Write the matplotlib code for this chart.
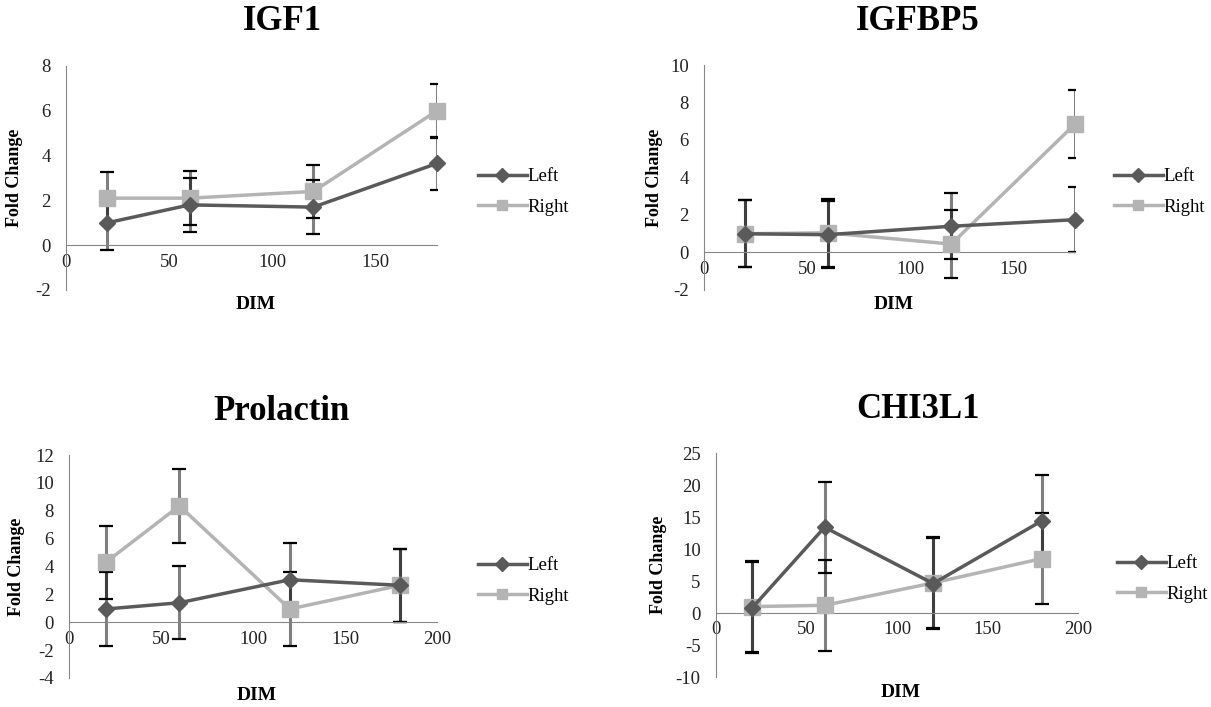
import matplotlib
matplotlib.use("Agg")
import matplotlib.pyplot as plt
import numpy as np

plt.rcParams['font.family'] = ['Liberation Serif', 'DejaVu Serif']
plt.rcParams['axes.unicode_minus'] = False

dim = [20, 60, 120, 180]

titles = ["IGF1", "IGFBP5", "Prolactin", "CHI3L1"]

left_vals = {
    "IGF1": [1.0, 1.8, 1.7, 3.65],
    "IGFBP5": [1.0, 0.95, 1.4, 1.75],
    "Prolactin": [0.95, 1.4, 3.05, 2.65],
    "CHI3L1": [0.8, 13.4, 4.6, 14.4],
}
right_vals = {
    "IGF1": [2.1, 2.1, 2.4, 6.0],
    "IGFBP5": [1.0, 1.05, 0.45, 6.85],
    "Prolactin": [4.3, 8.35, 0.95, 2.65],
    "CHI3L1": [1.0, 1.2, 4.7, 8.5],
}
left_err = {
    "IGF1": [1.2, 1.2, 1.2, 1.2],
    "IGFBP5": [1.8, 1.8, 1.75, 1.75],
    "Prolactin": [2.63, 2.63, 2.63, 2.63],
    "CHI3L1": [7.1, 7.1, 7.1, 7.1],
}
right_err = {
    "IGF1": [1.15, 1.2, 1.2, 1.2],
    "IGFBP5": [1.8, 1.8, 1.8, 1.8],
    "Prolactin": [2.6, 2.63, 2.63, 2.63],
    "CHI3L1": [7.1, 7.1, 7.1, 7.1],
}

xlims = {"IGF1": (0, 180), "IGFBP5": (0, 180), "Prolactin": (0, 200), "CHI3L1": (0, 200)}
xticks = {"IGF1": [0, 50, 100, 150], "IGFBP5": [0, 50, 100, 150],
          "Prolactin": [0, 50, 100, 150, 200], "CHI3L1": [0, 50, 100, 150, 200]}
ylims = {"IGF1": (-2, 8), "IGFBP5": (-2, 10), "Prolactin": (-4, 12), "CHI3L1": (-10, 25)}
ysteps = {"IGF1": 2, "IGFBP5": 2, "Prolactin": 2, "CHI3L1": 5}

W, H = 1211, 707
fig = plt.figure(figsize=(W / 100, H / 100), dpi=100)

# pixel boxes: (x0, x1, ytop, ybottom)
boxes = {
    "IGF1": (66, 437, 66, 290),
    "IGFBP5": (704, 1075, 65, 290),
    "Prolactin": (69, 437, 455, 678),
    "CHI3L1": (716, 1078, 453, 677),
}
title_pos = {"IGF1": (282, 22), "IGFBP5": (918, 22), "Prolactin": (282, 412), "CHI3L1": (918, 410)}
legend_pos = {"IGF1": (478, 192), "IGFBP5": (1114, 192), "Prolactin": (478, 581), "CHI3L1": (1117, 579)}
ylabel_x = {"IGF1": -0.116, "IGFBP5": -0.11, "Prolactin": -0.12, "CHI3L1": -0.135}
xlabel_y = {"IGF1": -0.027, "IGFBP5": -0.027, "Prolactin": -0.04, "CHI3L1": -0.03}

left_color = "#5a5a5a"
right_color = "#b4b4b4"
axis_color = "#868686"

for name in titles:
    x0, x1, yt, yb = boxes[name]
    ax = fig.add_axes([x0 / W, 1 - yb / H, (x1 - x0) / W, (yb - yt) / H])
    ax.set_xlim(*xlims[name])
    ax.set_ylim(*ylims[name])
    lo, hi = ylims[name]
    ax.set_yticks(np.arange(lo, hi + 0.1, ysteps[name]))
    ax.set_xticks(xticks[name])
    for s in ["top", "right"]:
        ax.spines[s].set_visible(False)
    ax.spines["left"].set_color(axis_color)
    ax.spines["left"].set_position(("data", 0))
    ax.spines["bottom"].set_color(axis_color)
    ax.spines["bottom"].set_position(("data", 0))
    ax.tick_params(length=0, labelsize=13.5, colors="#222222")
    ax.tick_params(axis="y", pad=11)
    ax.tick_params(axis="x", pad=6)
    ax.patch.set_visible(False)

    for vals, errs in ((left_vals[name], left_err[name]), (right_vals[name], right_err[name])):
        eb = ax.errorbar(dim, vals, yerr=errs, fmt="none", ecolor="black", alpha=0.5,
                         elinewidth=2.2, capsize=5, capthick=1.6, zorder=2)
        for cap in eb[1]:
            cap.set_alpha(1.0)
            cap.set_color("#111111")

    ax.plot(dim, left_vals[name], color=left_color, lw=2.5, marker="D", ms=8,
            mfc=left_color, mec=left_color, label="Left", zorder=4, clip_on=False)
    ax.plot(dim, right_vals[name], color=right_color, lw=2.5, marker="s", ms=11,
            mfc=right_color, mec=right_color, label="Right", zorder=3, clip_on=False)

    ax.set_xlabel("DIM", fontsize=14, fontweight="bold")
    ax.xaxis.set_label_coords(0.51, xlabel_y[name])
    ax.set_ylabel("Fold Change", fontsize=13, fontweight="bold")
    ax.yaxis.set_label_coords(ylabel_x[name], 0.5)

    tx, ty = title_pos[name]
    fig.text(tx / W, 1 - ty / H, name, fontsize=25, fontweight="bold",
             ha="center", va="center")

    lx, ly = legend_pos[name]
    leg = ax.legend(loc="center left", bbox_to_anchor=(lx / W, 1 - ly / H),
                    bbox_transform=fig.transFigure, frameon=False, fontsize=13.5,
                    handlelength=2.6, handletextpad=0.05, labelspacing=0.7,
                    borderpad=0, borderaxespad=0)
    for h in leg.legend_handles:
        h.set_markersize(7)

fig.savefig("out.png", dpi=100)
